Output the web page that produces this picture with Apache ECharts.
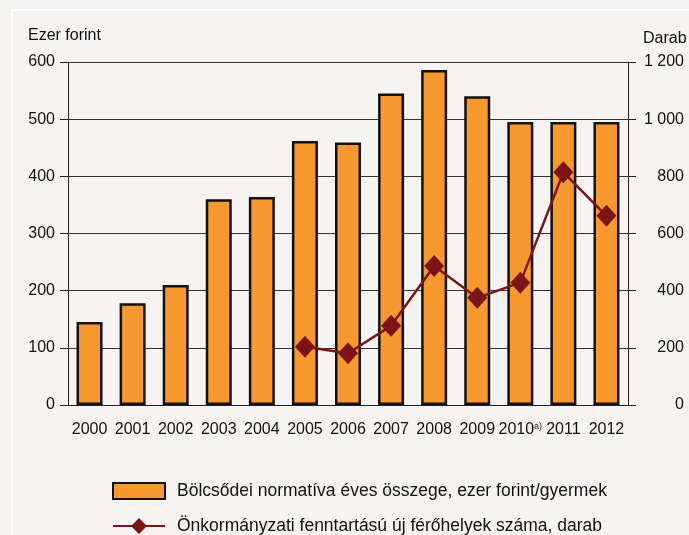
<!DOCTYPE html>
<html>
<head>
<meta charset="utf-8">
<script src="https://cdn.jsdelivr.net/npm/echarts@6/dist/echarts.min.js"></script>
<style>
  html, body { margin: 0; padding: 0; background: #f5f4f2; }
  #chart { width: 689px; height: 535px; }
</style>
</head>
<body>
<div id="chart"></div>
<script>
// évek
const years = ['2000', '2001', '2002', '2003', '2004', '2005', '2006', '2007', '2008', '2009', '2010', '2011', '2012']
// Bölcsődei normatíva, ezer forint/gyermek
const normativa = [145, 178, 210, 360, 364, 462, 459, 545, 586, 540, 495, 495, 495]
// új férőhelyek, darab
const ferohely = [null, null, null, null, null, 204, 181, 277, 486, 375, 428, 814, 662]

const barName = 'Bölcsődei normatíva éves összege, ezer forint/gyermek'
const lineName = 'Önkormányzati fenntartású új férőhelyek száma, darab'

const font = "'Liberation Sans', Arial, sans-serif"
const txt = '#111'
const fs = 16

// vonal + rombusz a jelmagyarázathoz
const lineIcon = 'path://M0,7H19L26,0L33,7H52V9H33L26,16L19,9H0Z'

const chart = echarts.init(document.getElementById('chart'))

const option = {
  backgroundColor: '#f5f4f2',
  animation: false,
  textStyle: { fontFamily: font },
  graphic: [
    {
      type: 'rect',
      shape: { x: 12, y: 10, width: 720, height: 600 },
      style: { fill: 'none', stroke: '#ffffff', lineWidth: 2 },
      silent: true
    },
    {
      type: 'text',
      left: 28, top: 28,
      style: { text: 'Ezer forint', font: fs + 'px ' + font, fill: txt }
    },
    {
      type: 'text',
      left: 643, top: 31,
      style: { text: 'Darab', font: fs + 'px ' + font, fill: txt }
    }
  ],
  grid: { left: 68, right: 61, top: 62, bottom: 130 },
  legend: {
    orient: 'vertical',
    left: 112,
    top: 482,
    padding: 0,
    itemWidth: 52,
    itemHeight: 16,
    itemGap: 17,
    textStyle: { fontSize: 17.5, color: txt, fontFamily: font, padding: [0, 0, 0, 7] },
    data: [{ name: barName, icon: 'rect' }, { name: lineName, icon: lineIcon }]
  },
  xAxis: {
    type: 'category',
    data: years,
    axisLine: { lineStyle: { color: '#222', width: 1 } },
    axisTick: { length: 7, lineStyle: { color: '#222' } },
    axisLabel: {
      color: txt,
      fontSize: fs,
      margin: 17,
      interval: 0,
      formatter: v => v === '2010' ? '2010{sup|a)}' : v,
      rich: { sup: { fontSize: 9, verticalAlign: 'top', lineHeight: 10, color: txt } }
    }
  },
  yAxis: [
    {
      type: 'value',
      min: 0, max: 600, interval: 100,
      axisLine: { show: true, lineStyle: { color: '#222' } },
      axisTick: { show: true, length: 8, lineStyle: { color: '#222' } },
      axisLabel: { color: txt, fontSize: fs, margin: 13 },
      splitLine: { lineStyle: { color: '#333', width: 1 } }
    },
    {
      type: 'value',
      min: 0, max: 1200, interval: 200,
      axisLine: { show: true, lineStyle: { color: '#222' } },
      axisTick: { show: true, length: 8, lineStyle: { color: '#222' } },
      axisLabel: {
        color: txt, fontSize: fs, margin: 56, align: 'right',
        formatter: v => String(v).replace(/\B(?=(\d{3})+(?!\d))/g, ' ')
      },
      splitLine: { show: false }
    }
  ],
  series: [
    {
      name: barName,
      type: 'bar',
      data: normativa,
      barWidth: 26,
      itemStyle: { color: '#f7992f', borderColor: '#111', borderWidth: 2.5 }
    },
    {
      name: lineName,
      type: 'line',
      yAxisIndex: 1,
      data: ferohely,
      symbol: 'diamond',
      symbolSize: [20, 22],
      lineStyle: { color: '#7b1515', width: 2.5 },
      itemStyle: { color: '#7b1515' }
    }
  ]
}

chart.setOption(option)
</script>
</body>
</html>
